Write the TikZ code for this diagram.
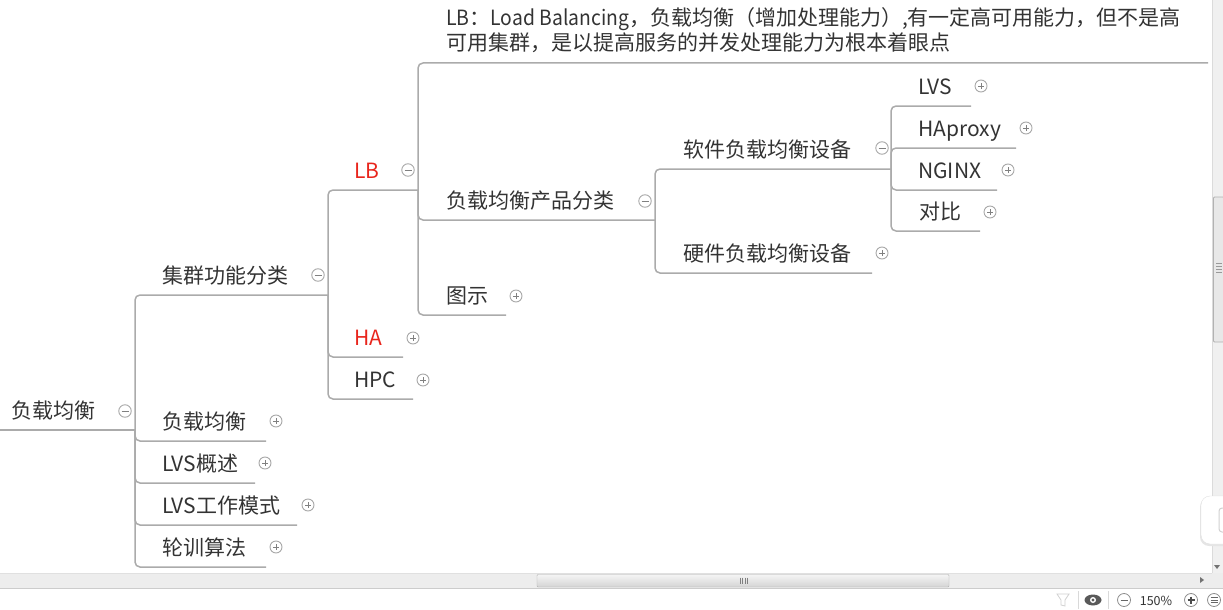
\documentclass[tikz,border=0pt]{standalone}
\usepackage{fontspec}
\setmainfont{Noto Sans CJK SC}
\definecolor{txtc}{HTML}{333333}
\definecolor{hotc}{HTML}{E8251C}
\definecolor{linec}{HTML}{ABABAB}
\definecolor{togc}{HTML}{A8A8A8}
\definecolor{signc}{HTML}{808080}
\begin{document}
\begin{tikzpicture}[x=1pt,y=-1pt,
  txt/.style={inner sep=0pt, anchor=base west, text=txtc, font=\fontsize{21}{25}\selectfont},
  hot/.style={txt, text=hotc},
  branch/.style={draw=linec, line width=1.5pt, rounded corners=5pt},
  tgm/.style={circle, draw=togc, line width=0.9pt, fill=white, minimum size=12.5pt, inner sep=0pt,
    path picture={\draw[signc, line width=1pt] ([xshift=-3.5pt]path picture bounding box.center) -- ([xshift=3.5pt]path picture bounding box.center);}},
  tgp/.style={circle, draw=togc, line width=0.9pt, fill=white, minimum size=12pt, inner sep=0pt,
    path picture={\draw[signc, line width=1pt] ([xshift=-3pt]path picture bounding box.center) -- ([xshift=3pt]path picture bounding box.center)
      ([yshift=-3pt]path picture bounding box.center) -- ([yshift=3pt]path picture bounding box.center);}},
  ui/.style={line width=0.8pt}
]
\useasboundingbox (0,0) rectangle (1223,610);

% ---------- topics ----------
\node[txt] (root) at (11,418) {负载均衡};
\node[txt] (cl) at (162,283) {集群功能分类};
\node[hot] (lb) at (354,178) {LB};
\node[hot] (ha) at (354,345) {HA};
\node[txt] (hpc) at (354,387) {HPC};
\node[txt] (desc) at (446,26) {\parbox[t]{1000pt}{\fontsize{21}{25}\selectfont \scalebox{0.93}[1]{LB}：\scalebox{0.92}[1]{Load Balancing}，负载均衡（增加处理能力）,有一定高可用能力，但不是高\\可用集群，是以提高服务的并发处理能力为根本着眼点}};
\node[txt] (prod) at (446,208) {负载均衡产品分类};
\node[txt] (tushi) at (446,303) {图示};
\node[txt] (soft) at (683,157) {软件负载均衡设备};
\node[txt] (hard) at (683,261) {硬件负载均衡设备};
\node[txt] (lvs) at (918,94) {LVS};
\node[txt] (hap) at (918,136) {HAproxy};
\node[txt] (ngx) at (918,178) {NGINX};
\node[txt] (db) at (919,219) {对比};
\node[txt] (c1) at (162,429) {负载均衡};
\node[txt] (c2) at (162,471) {LVS概述};
\node[txt] (c3) at (162,513) {LVS工作模式};
\node[txt] (c4) at (162,555) {轮训算法};

% ---------- line ends ----------
\coordinate (root-s) at (0,430);
\coordinate (root-e) at (135,430);
\coordinate (cl-e) at (328,295);
\coordinate (lb-e) at (418,190);
\coordinate (ha-e) at (403,357);
\coordinate (hpc-e) at (413,399);
\coordinate (desc-e) at (1208,63);
\coordinate (prod-e) at (655,220);
\coordinate (tushi-e) at (506,315);
\coordinate (soft-e) at (891,169);
\coordinate (hard-e) at (872,273);
\coordinate (lvs-e) at (971,106);
\coordinate (hap-e) at (1016,148);
\coordinate (ngx-e) at (997,190);
\coordinate (db-e) at (980,231);
\coordinate (c1-e) at (266,441);
\coordinate (c2-e) at (255,483);
\coordinate (c3-e) at (297,525);
\coordinate (c4-e) at (266,567);

% ---------- branches ----------
\draw[branch] (root-s) -- (root-e);
\draw[branch] (root-e) |- (cl-e);
\draw[branch] (root-e) |- (c1-e);
\draw[branch] (root-e) |- (c2-e);
\draw[branch] (root-e) |- (c3-e);
\draw[branch] (root-e) |- (c4-e);
\draw[branch] (cl-e) |- (lb-e);
\draw[branch] (cl-e) |- (ha-e);
\draw[branch] (cl-e) |- (hpc-e);
\draw[branch] (lb-e) |- (desc-e);
\draw[branch] (lb-e) |- (prod-e);
\draw[branch] (lb-e) |- (tushi-e);
\draw[branch] (prod-e) |- (soft-e);
\draw[branch] (prod-e) |- (hard-e);
\draw[branch] (soft-e) |- (lvs-e);
\draw[branch] (soft-e) |- (hap-e);
\draw[branch] (soft-e) |- (ngx-e);
\draw[branch] (soft-e) |- (db-e);

% ---------- toggles ----------
\node[tgm] (root-t) at (125,411) {};
\node[tgm] (cl-t) at (318,275) {};
\node[tgm] (lb-t) at (408,170) {};
\node[tgp] (ha-t) at (413,338) {};
\node[tgp] (hpc-t) at (423,380) {};
\node[tgm] (prod-t) at (645,201) {};
\node[tgp] (tushi-t) at (516,296) {};
\node[tgm] (soft-t) at (882,148) {};
\node[tgp] (hard-t) at (882,253) {};
\node[tgp] (lvs-t) at (981,86) {};
\node[tgp] (hap-t) at (1026,128) {};
\node[tgp] (ngx-t) at (1008,170) {};
\node[tgp] (db-t) at (990,212) {};
\node[tgp] (c1-t) at (276,421) {};
\node[tgp] (c2-t) at (265,463) {};
\node[tgp] (c3-t) at (308,505) {};
\node[tgp] (c4-t) at (276,547) {};

% ---------- window chrome ----------
% vertical scrollbar
\fill[black!6] (1212,0) rectangle (1223,573);
\draw[black!14, ui] (1212,0) -- (1212,573);
\draw[black!30, fill=black!9, ui, rounded corners=1pt] (1213.5,197) rectangle (1224,342);
\foreach \yy in {263,266,269,272} \draw[black!40, line width=0.6pt] (1216,\yy) -- (1222,\yy);
\fill[black!55] (1214,565) -- (1220,565) -- (1217,569) -- cycle;
% floating button
\fill[black!10, rounded corners=9pt] (1200,498) rectangle (1232,546);
\draw[black!12, fill=white, rounded corners=9pt] (1201,496) rectangle (1232,544);
\draw[black!18, fill=white, line width=1pt, rounded corners=3pt] (1219,508) rectangle (1230,532);
% horizontal scrollbar
\fill[black!7] (0,573) rectangle (1223,588);
\draw[black!20, ui] (0,588.5) -- (1223,588.5);
\draw[black!12, ui] (0,573) -- (1212,573);
\shade[top color=black!4, bottom color=black!17, draw=black!30, rounded corners=1pt] (537,574.5) rectangle (949,587);
\foreach \xx in {740,742.5,745,747.5} \draw[black!50, line width=0.7pt] (\xx,577.5) -- (\xx,584);
\fill[black!55] (1200,577) -- (1204,580) -- (1200,583) -- cycle;
% status bar
\fill[white] (0,589) rectangle (1223,610);
\draw[black!18, ui, fill=white] (1057,594) -- (1069,594) -- (1065,600) -- (1065,606) -- (1061,605) -- (1061,600) -- cycle;
\draw[black!15, ui] (1078,591) -- (1078,609);
\draw[black!15, ui] (1108,591) -- (1108,609);
\fill[black!65] (1093,600) ellipse[x radius=8.5pt, y radius=5.5pt];
\fill[white] (1093,600) circle[radius=3pt];
\fill[black!65] (1093,600) circle[radius=1.6pt];
\draw[black!45, ui] (1124,600) circle[radius=6.5pt];
\draw[black!60, line width=1pt] (1120.5,600) -- (1127.5,600);
\node[inner sep=0pt, text=txtc, font=\fontsize{12.5}{14}\selectfont] (zoomlbl) at (1156,601) {150\%};
\draw[black!45, ui] (1191,600) circle[radius=6.5pt];
\draw[black!70, line width=1.2pt] (1187.5,600) -- (1194.5,600) (1191,596.5) -- (1191,603.5);
\draw[black!45, ui] (1214,600) circle[radius=6.5pt];
\draw[black!60, line width=1pt] (1210.5,597.5) -- (1217.5,597.5) (1210.5,600) -- (1217.5,600) (1210.5,602.5) -- (1217.5,602.5);
\end{tikzpicture}
\end{document}
